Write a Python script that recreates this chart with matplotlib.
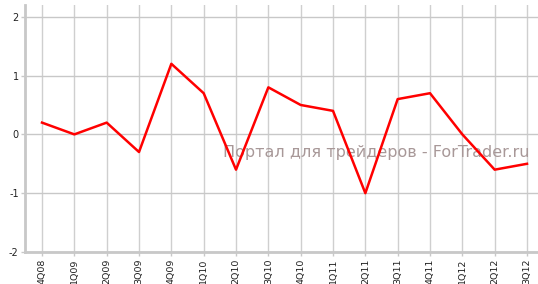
import matplotlib
matplotlib.use('Agg')
import matplotlib.pyplot as plt

quarters = ['4Q08', '1Q09', '2Q09', '3Q09', '4Q09', '1Q10', '2Q10', '3Q10',
            '4Q10', '1Q11', '2Q11', '3Q11', '4Q11', '1Q12', '2Q12', '3Q12']
values = [0.2, 0.0, 0.2, -0.3, 1.2, 0.7, -0.6, 0.8,
          0.5, 0.4, -1.0, 0.6, 0.7, 0.0, -0.6, -0.5]
y_ticks = [-2, -1, 0, 1, 2]

fig = plt.figure(figsize=(5.38, 2.84), dpi=100)
ax = fig.add_axes([25 / 538, 32 / 284, 513 / 538, 247 / 284])

x = list(range(len(quarters)))
ax.plot(x, values, color='#ff0000', lw=1.8, zorder=3)

ax.set_xlim(-0.526, 15.34)
ax.set_ylim(-2, 2.2)
ax.set_xticks(x)
ax.set_xticklabels(quarters, rotation=90, fontsize=6.8)
ax.set_yticks(y_ticks)
ax.set_yticklabels([str(v) for v in y_ticks], fontsize=7)

# grid lines
for i in x:
    ax.axvline(i, color='#cfcfcf', lw=1.0, zorder=1)
for v in y_ticks:
    ax.axhline(v, color='#c8c8c8', lw=1.0, zorder=1)

for side in ['top', 'right']:
    ax.spines[side].set_visible(False)
for side in ['left', 'bottom']:
    ax.spines[side].set_color('#c8c8c8')
    ax.spines[side].set_linewidth(2)
ax.tick_params(axis='both', colors='#c8c8c8', labelcolor='#222222', length=3, width=1, pad=1.5)

ax.text(376, 284 - 153, 'Портал для трейдеров - ForTrader.ru', transform=None,
        fontsize=11.5, color='#a89898', ha='center', va='center', zorder=2)

fig.savefig('out.png', dpi=100)
